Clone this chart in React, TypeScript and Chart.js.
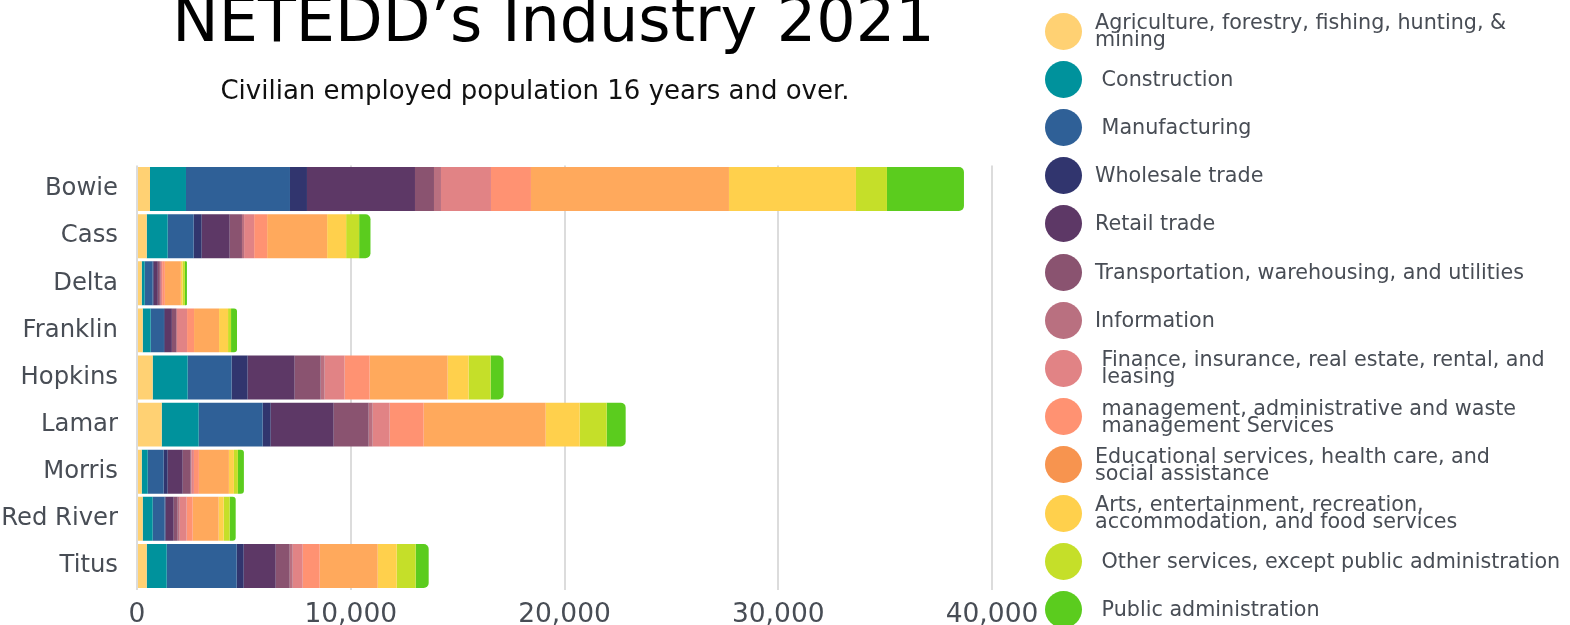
import React, { useEffect, useRef } from "react";
import { Chart, registerables } from "chart.js";

Chart.register(...registerables);

const counties = ["Bowie", "Cass", "Delta", "Franklin", "Hopkins", "Lamar", "Morris", "Red River", "Titus"];

const industryLabels = [
  "Agriculture, forestry, fishing, hunting, &\nmining",
  " Construction",
  " Manufacturing",
  "Wholesale trade",
  "Retail trade",
  "Transportation, warehousing, and utilities",
  "Information",
  " Finance, insurance, real estate, rental, and\n leasing",
  " management, administrative and waste\n management Services",
  "Educational services, health care, and\nsocial assistance",
  "Arts, entertainment, recreation,\naccommodation, and food services",
  " Other services, except public administration",
  " Public administration",
];

const agriculture = [608, 454, 220, 266, 733, 1155, 220, 266, 454];
const construction = [1684, 982, 140, 374, 1637, 1731, 281, 468, 936];
const manufacturing = [4865, 1216, 374, 622, 2058, 2994, 748, 561, 3275];
const wholesale = [795, 374, 50, 40, 748, 374, 187, 47, 327];
const retail = [5053, 1310, 190, 330, 2199, 2947, 702, 374, 1497];
const transportation = [889, 575, 95, 200, 1216, 1637, 374, 187, 655];
const information = [327, 100, 47, 40, 187, 187, 30, 94, 140];
const finance = [2339, 470, 62, 470, 935, 795, 120, 327, 468];
const management = [1871, 608, 125, 327, 1170, 1591, 234, 281, 795];
const education = [9263, 2807, 748, 1170, 3649, 5708, 1403, 1216, 2713];
const arts = [5942, 889, 80, 421, 982, 1591, 234, 234, 889];
const otherServices = [1450, 608, 110, 140, 1029, 1263, 187, 281, 889];
const publicAdmin = [3602, 530, 95, 280, 608, 889, 281, 281, 608];

const seriesValues = [
  agriculture, construction, manufacturing, wholesale, retail, transportation,
  information, finance, management, education, arts, otherServices, publicAdmin,
];

const xTicks = [0, 10000, 20000, 30000, 40000];

const barColors = [
  "#FFD173", "#00929C", "#2F6097", "#31356E", "#5D3866", "#8A5370",
  "#B97080", "#E18385", "#FF9272", "#FFA95C", "#FFD04C", "#C5DF29", "#5BCC1E",
];
const dotColors = [
  "#FFD173", "#00929C", "#2F6097", "#31356E", "#5D3866", "#8A5370",
  "#B97080", "#E18385", "#FF9272", "#F7944F", "#FFD04C", "#C5DF29", "#5BCC1E",
];

const FONT = "'DejaVu Sans', sans-serif";
const TEXT_GRAY = "#484D55";

export default function App() {
  const canvasRef = useRef<HTMLCanvasElement | null>(null);

  useEffect(() => {
    const canvas = canvasRef.current;
    if (!canvas) return;
    const last = seriesValues.length - 1;
    const chart = new Chart(canvas, {
      type: "bar",
      data: {
        labels: counties,
        datasets: seriesValues.map((vals, i) => ({
          label: industryLabels[i].replace(/\n/g, " ").trim(),
          data: vals,
          backgroundColor: barColors[i],
          borderWidth: 0,
          borderRadius: i === last ? 5 : 0,
          borderSkipped: "start",
          categoryPercentage: 1,
          barPercentage: 0.933,
        })),
      },
      options: {
        indexAxis: "y",
        responsive: false,
        animation: false,
        maintainAspectRatio: false,
        layout: { padding: { top: 162.5, right: 68, bottom: 0, left: 0 } },
        plugins: {
          legend: { display: false },
          title: { display: false },
          tooltip: { enabled: false },
        },
        scales: {
          x: {
            stacked: true,
            min: 0,
            max: 40000,
            afterFit: (scale: any) => {
              scale.height = 38.5;
            },
            afterBuildTicks: (scale: any) => {
              scale.ticks = xTicks.map((v) => ({ value: v }));
            },
            ticks: {
              padding: 10,
              color: TEXT_GRAY,
              font: { family: FONT, size: 26.5 },
              callback: (v: any) => Number(v).toLocaleString("en-US"),
            },
            grid: {
              color: "#DCDCDC",
              lineWidth: 2,
              drawTicks: false,
            },
            border: { display: false },
          },
          y: {
            stacked: true,
            afterFit: (scale: any) => {
              scale.width = 137;
            },
            ticks: {
              padding: 19,
              color: TEXT_GRAY,
              font: { family: FONT, size: 24.3 },
            },
            grid: { display: false, drawTicks: false },
            border: { display: false },
          },
        },
      },
    });
    return () => chart.destroy();
  }, []);

  const legendTop = 31;
  const legendStep = 48.2;

  return (
    <div
      style={{
        position: "fixed",
        left: 0,
        top: 0,
        width: 1570,
        height: 625,
        overflow: "hidden",
        background: "#ffffff",
        fontFamily: FONT,
      }}
    >
      <canvas
        ref={canvasRef}
        width={1060}
        height={625}
        style={{ position: "absolute", left: 0, top: 3, width: 1060, height: 625 }}
      />
      <div
        style={{
          position: "absolute",
          left: 0,
          top: -11.5,
          width: 1107,
          textAlign: "center",
          fontSize: 62,
          lineHeight: "62px",
          color: "#000",
          whiteSpace: "nowrap",
        }}
      >
        NETEDD’s Industry 2021
      </div>
      <div
        style={{
          position: "absolute",
          left: 0,
          top: 77,
          width: 1070,
          textAlign: "center",
          fontSize: 26,
          lineHeight: "26px",
          color: "#111",
          whiteSpace: "nowrap",
        }}
      >
        Civilian employed population 16 years and over.
      </div>
      {industryLabels.map((lab, i) => {
        const cy = legendTop + i * legendStep;
        return (
          <div
            key={i}
            style={{
              position: "absolute",
              left: 1045,
              top: cy - 22,
              height: 44,
              display: "flex",
              alignItems: "center",
            }}
          >
            <div
              style={{
                width: 37,
                height: 37,
                borderRadius: "50%",
                background: dotColors[i],
                flex: "0 0 auto",
              }}
            />
            <div
              style={{
                marginLeft: 13,
                fontSize: 20.7,
                lineHeight: "17px",
                color: TEXT_GRAY,
                whiteSpace: "pre",
              }}
            >
              {lab}
            </div>
          </div>
        );
      })}
    </div>
  );
}
